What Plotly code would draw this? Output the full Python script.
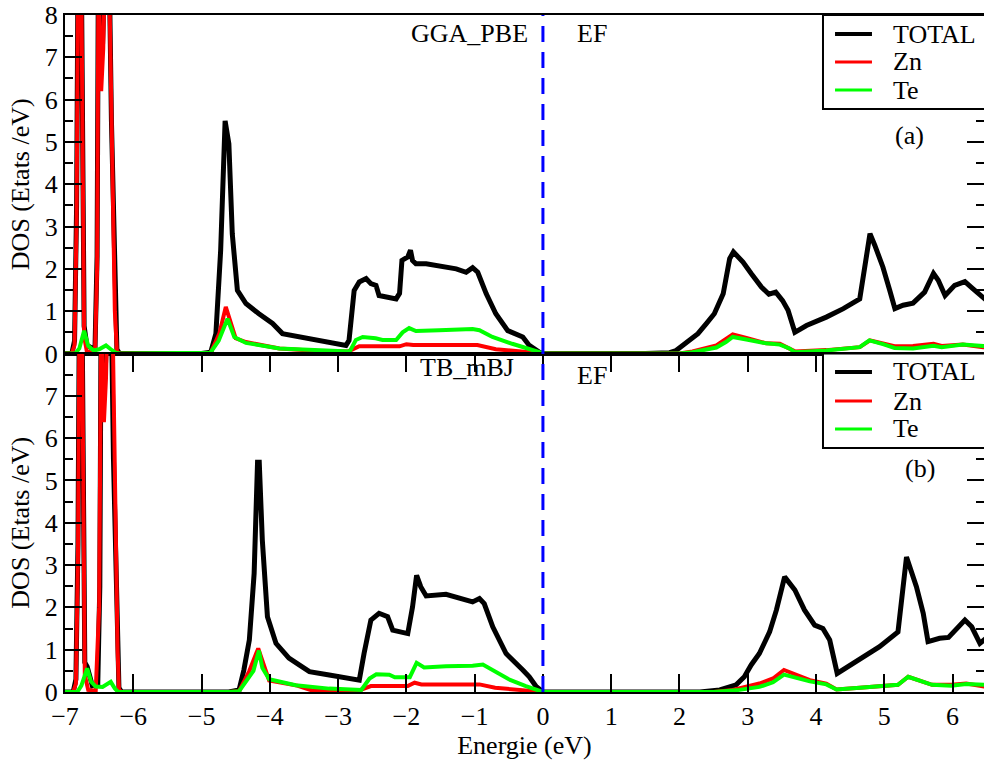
import plotly.graph_objects as go

# ---------------- data ----------------
# Panel (a) GGA_PBE
gga_total_x = [-7.0, -6.9, -6.86, -6.83, -6.81, -6.79, -6.76, -6.74, -6.72, -6.68, -6.6, -6.56, -6.53, -6.51,
               -6.48, -6.45, -6.42, -6.36, -6.32, -6.27, -6.24, -6.2, -5.0, -4.865, -4.79, -4.72, -4.655, -4.6,
               -4.55, -4.475, -4.35, -4.16, -3.96, -3.815, -3.375, -2.885, -2.84, -2.765, -2.69, -2.59, -2.52,
               -2.445, -2.4, -2.15, -2.1, -2.065, -1.98, -1.94, -1.91, -1.86, -1.71, -1.52, -1.27, -1.125,
               -1.03, -0.955, -0.83, -0.69, -0.515, -0.295, -0.2, -0.05, 0.0, 1.5, 1.855, 1.95, 2.1, 2.27,
               2.39, 2.51, 2.64, 2.735, 2.79, 2.93, 3.05, 3.2, 3.31, 3.41, 3.51, 3.59, 3.69, 3.86, 4.15, 4.4,
               4.64, 4.71, 4.79, 4.86, 4.98, 5.08, 5.155, 5.275, 5.42, 5.59, 5.72, 5.79, 5.89, 6.03, 6.18,
               6.3, 6.45, 6.5]
gga_total_y = [0.0, 0.0, 0.3, 3.5, 9.0, 12.0, 9.0, 3.0, 0.65, 0.2, 0.12, 0.15, 2.3, 9.5,
               8.5, 7.3, 9.0, 10.0, 5.5, 1.2, 0.1, 0.0, 0.0, 0.03, 0.47, 2.44, 5.5, 4.96,
               2.83, 1.49, 1.18, 0.94, 0.71, 0.47, 0.35, 0.19, 0.31, 1.49, 1.69, 1.77, 1.65,
               1.61, 1.37, 1.29, 1.42, 2.2, 2.28, 2.44, 2.2, 2.12, 2.12, 2.07, 2.0, 1.92,
               2.03, 1.92, 1.41, 0.94, 0.54, 0.39, 0.19, 0.03, 0.0, 0.0, 0.02, 0.07, 0.27, 0.47,
               0.7, 0.94, 1.41, 2.24, 2.4, 2.16, 1.89, 1.57, 1.4, 1.45, 1.25, 1.02, 0.5, 0.66, 0.86, 1.06,
               1.29, 2.04, 2.83, 2.56, 2.04, 1.49, 1.06, 1.14, 1.19, 1.45, 1.89, 1.73, 1.37, 1.61, 1.7,
               1.53, 1.31, 1.25]

gga_zn_x = [-7.0, -6.9, -6.86, -6.83, -6.81, -6.79, -6.76, -6.74, -6.72, -6.68, -6.6, -6.56, -6.53, -6.51,
            -6.49, -6.47, -6.44, -6.41, -6.36, -6.32, -6.27, -6.24, -6.2, -5.0, -4.865, -4.74, -4.645,
            -4.5, -4.35, -3.86, -3.3, -2.85, -2.79, -2.69, -2.1, -2.0, -1.9, -0.96, -0.69, -0.2, 0.0, 2.0,
            2.19, 2.54, 2.66, 2.78, 2.98, 3.27, 3.47, 3.61, 3.69, 4.15, 4.64, 4.79, 4.98, 5.15, 5.42, 5.72,
            5.84, 6.15, 6.45, 6.5]
gga_zn_y = [0.0, 0.0, 0.2, 3.2, 8.6, 11.5, 8.6, 2.7, 0.4, 0.05, 0.02, 0.03, 2.0, 9.0,
            7.5, 6.2, 7.2, 9.5, 9.5, 5.0, 1.0, 0.05, 0.0, 0.0, 0.02, 0.47, 1.1,
            0.36, 0.27, 0.12, 0.06, 0.05, 0.1, 0.17, 0.17, 0.22, 0.2, 0.2, 0.1, 0.02, 0.0, 0.0,
            0.05, 0.19, 0.31, 0.45, 0.37, 0.24, 0.23, 0.13, 0.05, 0.08, 0.15, 0.31, 0.24, 0.17, 0.18, 0.23,
            0.18, 0.21, 0.15, 0.14]

gga_te_x = [-7.0, -6.85, -6.79, -6.72, -6.66, -6.58, -6.5, -6.4, -6.33, -6.26, -6.2, -5.0, -4.87, -4.75,
            -4.62, -4.52, -4.35, -3.86, -3.37, -2.83, -2.74, -2.64, -2.45, -2.35, -2.15, -2.055, -1.96,
            -1.86, -1.52, -1.03, -0.93, -0.74, -0.45, -0.25, -0.05, 0.0, 2.0, 2.19, 2.54, 2.68, 2.78, 2.98,
            3.27, 3.47, 3.61, 3.69, 4.15, 4.64, 4.78, 4.98, 5.15, 5.42, 5.72, 5.84, 6.15, 6.45, 6.5]
gga_te_y = [0.0, 0.0, 0.12, 0.54, 0.18, 0.07, 0.1, 0.19, 0.1, 0.02, 0.0, 0.0, 0.02, 0.3,
            0.82, 0.39, 0.25, 0.12, 0.08, 0.05, 0.32, 0.39, 0.36, 0.32, 0.32, 0.5, 0.6,
            0.53, 0.55, 0.58, 0.55, 0.39, 0.23, 0.14, 0.03, 0.0, 0.0, 0.03, 0.14, 0.27, 0.39, 0.33,
            0.24, 0.21, 0.12, 0.03, 0.07, 0.15, 0.31, 0.22, 0.13, 0.12, 0.18, 0.15, 0.21, 0.18, 0.17]

# Panel (b) TB_mBJ
mbj_total_x = [-7.0, -6.88, -6.84, -6.81, -6.79, -6.77, -6.75, -6.73, -6.71, -6.675, -6.6, -6.52, -6.49,
               -6.47, -6.44, -6.41, -6.38, -6.33, -6.29, -6.24, -6.21, -6.17, -4.6, -4.45, -4.38, -4.3,
               -4.23, -4.18, -4.155, -4.11, -4.035, -3.91, -3.72, -3.57, -3.42, -3.13, -2.69, -2.62, -2.52,
               -2.4, -2.275, -2.2, -1.98, -1.91, -1.85, -1.79, -1.71, -1.42, -1.175, -1.03, -0.93, -0.86,
               -0.735, -0.54, -0.295, -0.2, -0.1, 0.0, 2.3, 2.59, 2.83, 2.95, 3.05, 3.17, 3.32, 3.42, 3.54,
               3.69, 3.83, 3.98, 4.1, 4.2, 4.31, 4.64, 4.93, 5.2, 5.325, 5.47, 5.57, 5.64, 5.81, 5.94, 6.06,
               6.18, 6.28, 6.4, 6.46, 6.5]
mbj_total_y = [0.0, 0.0, 0.3, 3.5, 9.0, 12.0, 9.0, 3.0, 0.7, 0.6, 0.15, 0.2, 2.5,
               9.5, 8.5, 7.6, 9.0, 10.0, 5.5, 1.2, 0.1, 0.0, 0.0, 0.05, 0.52, 1.23,
               2.8, 5.43, 5.43, 3.59, 1.78, 1.15, 0.8, 0.64, 0.48, 0.4, 0.28, 0.91, 1.7,
               1.86, 1.78, 1.46, 1.38, 2.01, 2.76, 2.49, 2.27, 2.31, 2.21, 2.13, 2.21, 2.09,
               1.54, 0.91, 0.52, 0.36, 0.13, 0.0, 0.0, 0.05, 0.17, 0.36, 0.64, 0.91, 1.42, 1.94, 2.72,
               2.41, 1.94, 1.58, 1.5, 1.23, 0.44, 0.76, 1.07, 1.42, 3.19, 2.49, 1.86, 1.19, 1.27, 1.29, 1.5,
               1.7, 1.54, 1.15, 1.23, 1.28]

mbj_zn_x = [-7.0, -6.88, -6.84, -6.81, -6.79, -6.77, -6.75, -6.73, -6.71, -6.66, -6.55, -6.5, -6.47,
            -6.45, -6.43, -6.4, -6.37, -6.31, -6.27, -6.23, -6.21, -6.17, -4.6, -4.45, -4.3, -4.17,
            -4.01, -3.6, -3.37, -2.7, -2.6, -2.52, -1.98, -1.88, -1.78, -0.93, -0.7, -0.2, 0.0, 2.5, 2.78,
            3.17, 3.37, 3.53, 3.66, 3.91, 4.15, 4.3, 4.64, 5.2, 5.35, 5.47, 5.7, 5.98, 6.2, 6.46, 6.5]
mbj_zn_y = [0.0, 0.0, 0.2, 3.2, 8.6, 11.5, 8.6, 2.7, 0.4, 0.05, 0.03, 2.0, 9.0,
            7.5, 6.38, 7.4, 9.5, 9.5, 5.0, 1.0, 0.05, 0.0, 0.0, 0.02, 0.5, 1.03,
            0.27, 0.15, 0.03, 0.03, 0.09, 0.14, 0.14, 0.22, 0.18, 0.18, 0.1, 0.02, 0.0, 0.0, 0.05,
            0.2, 0.32, 0.52, 0.44, 0.28, 0.2, 0.06, 0.1, 0.17, 0.36, 0.3, 0.17, 0.17, 0.2, 0.13, 0.13]

mbj_te_x = [-7.0, -6.82, -6.76, -6.675, -6.62, -6.55, -6.45, -6.33, -6.27, -6.22, -4.6, -4.45, -4.24,
            -4.16, -4.11, -4.01, -3.62, -3.13, -2.66, -2.54, -2.44, -2.25, -2.17, -1.95, -1.85, -1.74,
            -1.42, -1.03, -0.88, -0.74, -0.5, -0.25, -0.05, 0.0, 2.5, 2.88, 3.17, 3.37, 3.53, 3.66, 3.91,
            4.15, 4.3, 4.64, 5.2, 5.35, 5.47, 5.7, 5.98, 6.2, 6.46, 6.5]
mbj_te_y = [0.0, 0.0, 0.15, 0.56, 0.25, 0.13, 0.12, 0.24, 0.08, 0.0, 0.0, 0.02, 0.5,
            0.98, 0.57, 0.3, 0.16, 0.08, 0.05, 0.32, 0.42, 0.41, 0.35, 0.35, 0.69, 0.58,
            0.61, 0.62, 0.65, 0.52, 0.3, 0.14, 0.03, 0.0, 0.0, 0.05, 0.12, 0.23, 0.41, 0.35, 0.25,
            0.18, 0.06, 0.1, 0.17, 0.36, 0.3, 0.17, 0.15, 0.19, 0.17, 0.17]

series_names = ["TOTAL", "Zn", "Te"]
series_colors = ["#000000", "#ff0000", "#00ff00"]
series_widths = [5, 4, 4]
legend_widths = [4, 3, 3]

y_ticks_top = [0, 1, 2, 3, 4, 5, 6, 7, 8]
y_ticks_bottom = [0, 1, 2, 3, 4, 5, 6, 7]
x_ticks = [-7, -6, -5, -4, -3, -2, -1, 0, 1, 2, 3, 4, 5, 6]

FONT = "Liberation Serif"
FS = 26

fig = go.Figure()

top_sets = [(gga_total_x, gga_total_y), (gga_zn_x, gga_zn_y), (gga_te_x, gga_te_y)]
bot_sets = [(mbj_total_x, mbj_total_y), (mbj_zn_x, mbj_zn_y), (mbj_te_x, mbj_te_y)]

for (xs, ys), name, col, w in zip(top_sets, series_names, series_colors, series_widths):
    fig.add_trace(go.Scatter(x=xs, y=ys, mode="lines", name=name + " (GGA_PBE)", xaxis="x", yaxis="y",
                             line=dict(color=col, width=w), showlegend=False))
for (xs, ys), name, col, w in zip(bot_sets, series_names, series_colors, series_widths):
    fig.add_trace(go.Scatter(x=xs, y=ys, mode="lines", name=name + " (TB_mBJ)", xaxis="x2", yaxis="y2",
                             line=dict(color=col, width=w), showlegend=False))

XR = [-7, 6.46]
tfont = dict(family=FONT, size=FS, color="black")
yax_common = dict(
    range=[0, 8], showgrid=False, zeroline=False, showline=True, linecolor="black", linewidth=2,
    mirror="ticks", ticks="inside", ticklen=17, tickwidth=1.5, tickcolor="black",
    tickfont=tfont,
    minor=dict(ticks="inside", ticklen=8, tickwidth=1.5, tickcolor="black", dtick=0.5, tick0=0, showgrid=False),
    title=dict(text="DOS (Etats /eV)", font=tfont, standoff=8),
)

fig.update_layout(
    width=984, height=761,
    margin=dict(l=65, r=0, t=15, b=69, autoexpand=False),
    paper_bgcolor="white", plot_bgcolor="white",
    font=dict(family=FONT, size=FS, color="black"),
    showlegend=False,
    xaxis=dict(domain=[0, 1], anchor="y", range=XR, matches="x2", showgrid=False, zeroline=False,
               showline=True, linecolor="black", linewidth=2, mirror=True, ticks="",
               showticklabels=False),
    yaxis=dict(domain=[0.5, 1], anchor="x", tickmode="array", tickvals=y_ticks_top, **yax_common),
    xaxis2=dict(domain=[0, 1], anchor="y2", range=XR, showgrid=False, zeroline=False,
                showline=True, linecolor="black", linewidth=2, mirror="ticks",
                ticks="inside", ticklen=18, tickwidth=1.5, tickcolor="black",
                tickmode="array", tickvals=x_ticks, tickfont=tfont,
                title=dict(text="Energie (eV)", font=tfont, standoff=2)),
    yaxis2=dict(domain=[0, 0.5], anchor="x2", tickmode="array", tickvals=y_ticks_bottom, **yax_common),
)

# Fermi level dashed line across both panels
fig.add_shape(type="line", xref="x2", yref="paper", x0=0, x1=0, y0=0, y1=1,
              line=dict(color="#0000ff", width=3, dash="16px,10px"), layer="above")

# Legend boxes (one per panel), drawn in paper coordinates
leg_x0, leg_x1 = 0.8248, 1.05
line_x0, line_x1, text_x = 0.8379, 0.8781, 0.8988
legend_boxes = [(0.8612, 1.0, [0.9719, 0.9306, 0.8892]),
                (0.3604, 0.5, [0.4727, 0.4298, 0.3885])]
for y0, y1, rows in legend_boxes:
    fig.add_shape(type="rect", xref="paper", yref="paper", x0=leg_x0, x1=leg_x1, y0=y0, y1=y1,
                  fillcolor="white", line=dict(color="black", width=2), layer="above")
    for ry, name, col, lw in zip(rows, series_names, series_colors, legend_widths):
        fig.add_shape(type="line", xref="paper", yref="paper", x0=line_x0, x1=line_x1, y0=ry, y1=ry,
                      line=dict(color=col, width=lw), layer="above")
        fig.add_annotation(x=text_x, y=ry, xref="paper", yref="paper", text=name, showarrow=False,
                           xanchor="left", yanchor="middle", font=tfont)

ann_font = tfont
fig.add_annotation(x=-1.07, y=7.57, xref="x", yref="y", text="GGA_PBE", showarrow=False, font=ann_font)
fig.add_annotation(x=0.72, y=7.57, xref="x", yref="y", text="EF", showarrow=False, font=ann_font)
fig.add_annotation(x=5.375, y=5.16, xref="x", yref="y", text="(a)", showarrow=False, font=ann_font)
fig.add_annotation(x=-1.11, y=7.66, xref="x2", yref="y2", text="TB_mBJ", showarrow=False, font=ann_font)
fig.add_annotation(x=0.72, y=7.49, xref="x2", yref="y2", text="EF", showarrow=False, font=ann_font)
fig.add_annotation(x=5.52, y=5.29, xref="x2", yref="y2", text="(b)", showarrow=False, font=ann_font)

fig.write_html("out.html")
